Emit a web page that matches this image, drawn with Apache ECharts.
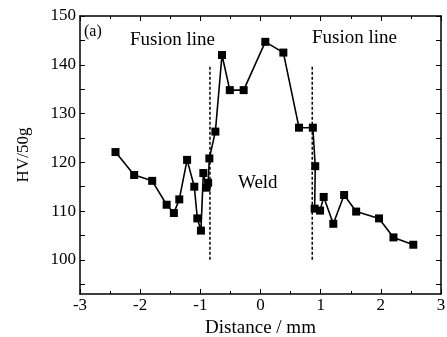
<!DOCTYPE html>
<html>
<head>
<meta charset="utf-8">
<script src="https://cdn.jsdelivr.net/npm/echarts@6/dist/echarts.min.js"></script>
<style>
  html, body { margin: 0; padding: 0; background: #fff; }
  #chart { width: 447px; height: 337px; }
</style>
</head>
<body>
<div id="chart"></div>
<script>
// hardness profile across the weld
const distance = [
  -2.41, -2.10, -1.80, -1.56, -1.44, -1.35, -1.22, -1.10, -1.05, -0.99,
  -0.95, -0.90, -0.87, -0.85, -0.75, -0.64, -0.51, -0.28, 0.08, 0.38,
  0.64, 0.87, 0.91, 0.90, 0.99, 1.05, 1.21, 1.39, 1.59, 1.97, 2.21, 2.54
];
const hardness = [
  122.1, 117.4, 116.2, 111.3, 109.6, 112.4, 120.5, 115.0, 108.5, 106.0,
  117.8, 114.8, 115.8, 120.8, 126.3, 142.0, 134.8, 134.8, 144.7, 142.5,
  127.1, 127.1, 119.2, 110.5, 110.1, 112.9, 107.4, 113.3, 109.9, 108.5, 104.6, 103.1
];
const fusionX = [-0.84, 0.86];
const fusionY = [100, 140];
const yLabels = [100, 110, 120, 130, 140, 150];
const yTicks = [95, 100, 105, 110, 115, 120, 125, 130, 135, 140, 145, 150];

const serif = "Liberation Serif";
const chart = echarts.init(document.getElementById("chart"), null, { renderer: "canvas" });

const boxAxis = {
  axisLine: { show: true, onZero: false, lineStyle: { color: "#000", width: 1.5 } },
  splitLine: { show: false }
};

chart.setOption({
  animation: false,
  backgroundColor: "#fff",
  grid: { left: 80, right: 6, top: 16, bottom: 43, outerBoundsMode: "none", containLabel: false },
  xAxis: [
    {
      ...boxAxis,
      type: "value",
      min: -3,
      max: 3,
      interval: 1,
      name: "Distance / mm",
      nameLocation: "middle",
      nameGap: 24,
      nameTextStyle: { fontFamily: serif, fontSize: 19, color: "#000" },
      axisTick: { inside: true, length: 5, lineStyle: { color: "#000" } },
      minorTick: { show: true, splitNumber: 2, length: 3, lineStyle: { color: "#000" } },
      axisLabel: { fontFamily: serif, fontSize: 17, color: "#000", margin: 3 }
    },
    {
      ...boxAxis,
      type: "value",
      position: "top",
      min: -3,
      max: 3,
      interval: 1,
      axisTick: { inside: true, length: 5, lineStyle: { color: "#000" } },
      minorTick: { show: true, splitNumber: 2, length: 3, lineStyle: { color: "#000" } },
      axisLabel: { show: false }
    }
  ],
  yAxis: [
    {
      ...boxAxis,
      type: "value",
      min: 93,
      max: 150,
      name: "HV/50g",
      nameLocation: "middle",
      nameGap: 48,
      nameTextStyle: { fontFamily: serif, fontSize: 17, color: "#000" },
      axisTick: { inside: true, length: 5, customValues: yTicks, lineStyle: { color: "#000" } },
      axisLabel: { fontFamily: serif, fontSize: 17, color: "#000", margin: 4, customValues: yLabels }
    },
    {
      ...boxAxis,
      type: "value",
      position: "right",
      min: 93,
      max: 150,
      axisTick: { inside: true, length: 5, customValues: yTicks, lineStyle: { color: "#000" } },
      axisLabel: { show: false }
    }
  ],
  series: [
    {
      type: "line",
      data: distance.map((d, i) => [d, hardness[i]]),
      symbol: "rect",
      symbolSize: 8,
      itemStyle: { color: "#000" },
      lineStyle: { color: "#000", width: 1.6 },
      z: 3
    },
    ...fusionX.map((x) => ({
      type: "line",
      data: fusionY.map((y) => [x, y]),
      symbol: "none",
      lineStyle: { color: "#000", width: 1.5, type: [3, 2] },
      z: 2
    }))
  ],
  graphic: [
    { type: "text", left: 84, top: 24, style: { text: "(a)", fontFamily: serif, fontSize: 16, fill: "#000" } },
    { type: "text", left: 130, top: 31, style: { text: "Fusion line", fontFamily: serif, fontSize: 19, fill: "#000" } },
    { type: "text", left: 312, top: 29, style: { text: "Fusion line", fontFamily: serif, fontSize: 19, fill: "#000" } },
    { type: "text", left: 238, top: 174, style: { text: "Weld", fontFamily: serif, fontSize: 19, fill: "#000" } }
  ]
});
</script>
</body>
</html>
